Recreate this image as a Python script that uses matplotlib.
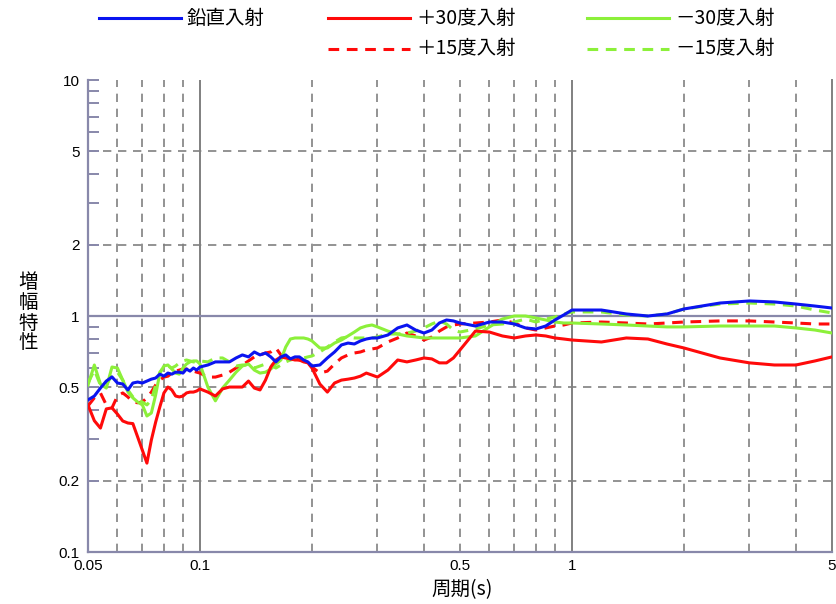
import matplotlib
matplotlib.use("Agg")
import matplotlib.pyplot as plt
from matplotlib.lines import Line2D
from matplotlib.ticker import FixedLocator, NullFormatter

cjk = ['Noto Sans CJK JP', 'DejaVu Sans']
num_font = ['Liberation Sans Narrow', 'Liberation Sans', 'DejaVu Sans']

# periods (s), shared by all curves
period = [0.050, 0.052, 0.054, 0.056, 0.058, 0.060, 0.062, 0.064, 0.066, 0.068,
          0.070, 0.072, 0.074, 0.076, 0.078, 0.080, 0.082, 0.084, 0.086, 0.088,
          0.090, 0.092, 0.094, 0.096, 0.098, 0.100,
          0.105, 0.110, 0.115, 0.120, 0.125, 0.130, 0.135, 0.140, 0.145, 0.150,
          0.155, 0.160, 0.165, 0.170, 0.175, 0.180, 0.185, 0.190, 0.195, 0.200,
          0.21, 0.22, 0.23, 0.24, 0.25, 0.26, 0.27, 0.28, 0.29, 0.30,
          0.32, 0.34, 0.36, 0.38, 0.40, 0.42, 0.44, 0.46, 0.48, 0.50,
          0.55, 0.60, 0.65, 0.70, 0.75, 0.80, 0.85, 0.90, 0.95, 1.00,
          1.2, 1.4, 1.6, 1.8, 2.0,
          2.5, 3.0, 3.5, 4.0, 4.5, 5.0]

# 鉛直入射
vertical = [0.441, 0.458, 0.495, 0.530, 0.552, 0.520, 0.515, 0.486, 0.520, 0.525,
            0.520, 0.530, 0.540, 0.546, 0.567, 0.556, 0.573, 0.567, 0.578, 0.578,
            0.573, 0.596, 0.584, 0.602, 0.590, 0.608,
            0.620, 0.639, 0.639, 0.639, 0.664, 0.684, 0.671, 0.704, 0.684, 0.697,
            0.671, 0.639, 0.671, 0.684, 0.658, 0.671, 0.671, 0.651, 0.639, 0.614,
            0.620, 0.664, 0.704, 0.754, 0.768, 0.761, 0.784, 0.799, 0.807, 0.807,
            0.831, 0.890, 0.916, 0.872, 0.847, 0.872, 0.934, 0.962, 0.953, 0.934,
            0.907, 0.943, 0.943, 0.925, 0.890, 0.881, 0.907, 0.962, 1.010, 1.060,
            1.060, 1.020, 1.000, 1.020, 1.071,
            1.135, 1.158, 1.147, 1.124, 1.102, 1.081]

# +30度入射
plus30 = [0.420, 0.360, 0.335, 0.404, 0.408, 0.384, 0.359, 0.352, 0.350, 0.307,
          0.270, 0.238, 0.298, 0.355, 0.412, 0.472, 0.500, 0.486, 0.458, 0.454,
          0.458, 0.472, 0.476, 0.476, 0.481, 0.491,
          0.476, 0.458, 0.491, 0.500, 0.500, 0.500, 0.530, 0.495, 0.486, 0.535,
          0.608, 0.651, 0.671, 0.664, 0.658, 0.651, 0.651, 0.639, 0.633, 0.602,
          0.515, 0.476, 0.520, 0.535, 0.540, 0.546, 0.556, 0.573, 0.562, 0.551,
          0.590, 0.651, 0.639, 0.651, 0.664, 0.658, 0.633, 0.633, 0.664, 0.718,
          0.863, 0.855, 0.823, 0.807, 0.823, 0.831, 0.823, 0.807, 0.799, 0.791,
          0.776, 0.807, 0.799, 0.761, 0.732,
          0.664, 0.633, 0.620, 0.620, 0.645, 0.671]

# -30度入射
minus30 = [0.510, 0.620, 0.515, 0.495, 0.608, 0.602, 0.535, 0.477, 0.450, 0.432,
           0.420, 0.377, 0.388, 0.463, 0.573, 0.614, 0.620, 0.596, 0.573, 0.567,
           0.602, 0.626, 0.639, 0.645, 0.645, 0.626,
           0.500, 0.437, 0.495, 0.535, 0.578, 0.614, 0.626, 0.590, 0.573, 0.578,
           0.596, 0.626, 0.651, 0.739, 0.799, 0.807, 0.807, 0.807, 0.799, 0.784,
           0.732, 0.732, 0.768, 0.791, 0.823, 0.855, 0.890, 0.907, 0.916, 0.899,
           0.863, 0.839, 0.823, 0.815, 0.807, 0.807, 0.807, 0.807, 0.807, 0.807,
           0.823, 0.899, 0.971, 1.000, 1.000, 0.981, 0.962, 0.943, 0.934, 0.934,
           0.925, 0.916, 0.907, 0.899, 0.899,
           0.907, 0.907, 0.907, 0.890, 0.872, 0.847]

# +15度入射
plus15 = [0.416, 0.450, 0.472, 0.420, 0.408, 0.458, 0.472, 0.454, 0.432, 0.429,
          0.432, 0.450, 0.476, 0.510, 0.535, 0.551, 0.556, 0.573, 0.584, 0.590,
          0.596, 0.596, 0.590, 0.584, 0.578, 0.573,
          0.551, 0.551, 0.562, 0.578, 0.602, 0.620, 0.645, 0.671, 0.684, 0.697,
          0.704, 0.732, 0.684, 0.671, 0.664, 0.658, 0.651, 0.645, 0.633, 0.608,
          0.573, 0.584, 0.626, 0.664, 0.684, 0.697, 0.704, 0.718, 0.725, 0.732,
          0.776, 0.807, 0.847, 0.823, 0.791, 0.815, 0.863, 0.899, 0.916, 0.925,
          0.934, 0.943, 0.962, 0.934, 0.890, 0.872, 0.890, 0.907, 0.916, 0.934,
          0.943, 0.934, 0.925, 0.934, 0.943,
          0.953, 0.953, 0.943, 0.934, 0.925, 0.925]

# -15度入射
minus15 = [0.520, 0.590, 0.510, 0.510, 0.562, 0.578, 0.535, 0.486, 0.454, 0.441,
           0.432, 0.420, 0.441, 0.510, 0.578, 0.608, 0.614, 0.602, 0.614, 0.633,
           0.645, 0.651, 0.645, 0.639, 0.639, 0.645,
           0.639, 0.664, 0.664, 0.639, 0.614, 0.620, 0.620, 0.602, 0.614, 0.626,
           0.620, 0.602, 0.620, 0.639, 0.651, 0.658, 0.664, 0.664, 0.671, 0.677,
           0.704, 0.739, 0.776, 0.807, 0.815, 0.807, 0.807, 0.807, 0.807, 0.815,
           0.839, 0.839, 0.847, 0.863, 0.890, 0.925, 0.953, 0.925, 0.872, 0.855,
           0.881, 0.916, 0.925, 0.943, 0.971, 0.943, 0.971, 0.990, 1.020, 1.040,
           1.040, 1.010, 1.000, 1.020, 1.071,
           1.124, 1.135, 1.124, 1.102, 1.060, 1.030]

labels = ['鉛直入射', '＋30度入射', '－30度入射', '＋15度入射', '－15度入射']
blue, red, green = '#0a14f0', '#ff0a0a', '#8cf03a'

x_ticks = [0.05, 0.1, 0.5, 1, 5]
x_tick_labels = ['0.05', '0.1', '0.5', '1', '5']
y_ticks = [0.1, 0.2, 0.5, 1, 2, 5, 10]
y_tick_labels = ['0.1', '0.2', '0.5', '1', '2', '5', '10']

fig = plt.figure(figsize=(8.36, 6.04), dpi=100)
ax = fig.add_axes([88 / 836, 1 - 552 / 604, 744 / 836, 472 / 604])
ax.set_xscale('log')
ax.set_yscale('log')
ax.set_xlim(0.05, 5)
ax.set_ylim(0.1, 10)

# grid
grid_c = '#808080'
dash = (0, (5, 4))
for v in [0.06, 0.07, 0.08, 0.09, 0.2, 0.3, 0.4, 0.5, 0.6, 0.7, 0.8, 0.9, 2, 3, 4]:
    ax.axvline(v, color=grid_c, lw=1.2, ls=dash, zorder=1)
for v in [0.1, 1]:
    ax.axvline(v, color=grid_c, lw=1.4, zorder=1)
for v in [0.2, 0.5, 2, 5]:
    ax.axhline(v, color=grid_c, lw=1.2, ls=dash, zorder=1)
ax.axhline(1, color='#8888aa', lw=1.6, zorder=1)

lw = 2.2
ax.plot(period, plus15, color=red, lw=lw, ls=(0, (3.5, 2.5)), zorder=3)
ax.plot(period, minus15, color=green, lw=lw, ls=(0, (3.5, 2.5)), zorder=3)
ax.plot(period, minus30, color=green, lw=lw, zorder=3)
ax.plot(period, plus30, color=red, lw=lw, zorder=3)
ax.plot(period, vertical, color=blue, lw=lw, zorder=4)

# axes frame
for s in ['top']:
    ax.spines[s].set_visible(False)
for s in ['left', 'bottom']:
    ax.spines[s].set_color('#8888aa')
    ax.spines[s].set_linewidth(1.6)
ax.spines['right'].set_color(grid_c)
ax.spines['right'].set_linewidth(1.4)

ax.set_xticks(x_ticks)
ax.set_xticklabels(x_tick_labels, family=num_font, fontsize=11)
ax.xaxis.set_minor_locator(FixedLocator([]))
ax.xaxis.set_minor_formatter(NullFormatter())
ax.tick_params(axis='x', which='both', length=0, pad=5)

ax.set_yticks(y_ticks)
ax.set_yticklabels(y_tick_labels, family=num_font, fontsize=11)
ax.yaxis.set_minor_locator(FixedLocator([0.3, 0.4, 0.6, 0.7, 0.8, 0.9, 3, 4, 6, 7, 8, 9]))
ax.yaxis.set_minor_formatter(NullFormatter())
ax.tick_params(axis='y', which='both', direction='in', length=8, width=1.4,
               color='#8888aa', pad=6)

# axis titles
fig.text(462 / 836, 1 - 590 / 604, '周期(s)', family=cjk, fontsize=14,
         ha='center', va='center')
for i, ch in enumerate('増幅特性'):
    fig.text(28 / 836, 1 - (283 + 20 * i) / 604, ch, family=cjk, fontsize=14,
             ha='center', va='center')

# legend
styles = [(blue, '-'), (red, '-'), (green, '-'), (red, (0, (3.5, 2.5))), (green, (0, (3.5, 2.5)))]
slots = [(99, 18), (328, 18), (587, 18), (328, 49), (587, 49)]
for (c, ls), (x0, y0), lab in zip(styles, slots, labels):
    fy = 1 - y0 / 604
    fig.add_artist(Line2D([x0 / 836, (x0 + 82) / 836], [fy, fy], color=c, lw=lw,
                          ls=ls, transform=fig.transFigure))
    fig.text((x0 + 88) / 836, fy, lab, family=cjk, fontsize=14, ha='left', va='center')

fig.savefig('out.png', dpi=100)
